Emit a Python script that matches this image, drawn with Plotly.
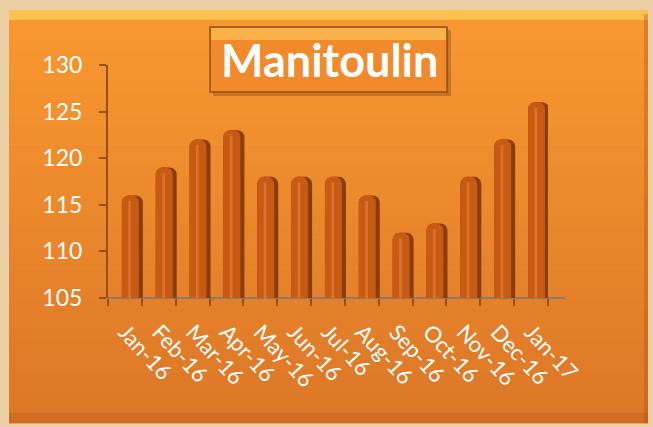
import plotly.graph_objects as go

months = ["Jan-16", "Feb-16", "Mar-16", "Apr-16", "May-16", "Jun-16", "Jul-16",
          "Aug-16", "Sep-16", "Oct-16", "Nov-16", "Dec-16", "Jan-17"]
values = [116, 119, 122, 123, 118, 118, 118, 116, 112, 113, 118, 122, 126]
y_ticks = [105, 110, 115, 120, 125, 130]
title_text = "Manitoulin"

W, H = 653, 427
L, R, T, B = 108, 548, 65, 298  # plot area in pixels


def px(X):
    return (X - L) / (R - L)


def py(Y):
    return (B - Y) / (B - T)


def mix(c1, c2, t):
    a = [int(c1[i:i + 2], 16) for i in (1, 3, 5)]
    b = [int(c2[i:i + 2], 16) for i in (1, 3, 5)]
    return "#" + "".join(f"{round(a[k] + (b[k] - a[k]) * t):02x}" for k in range(3))


shapes = []
# orange panel with vertical gradient
top_c, bot_c = "#F99830", "#DC7727"
y0p, y1p = 10, 423
n = 40
for i in range(n):
    ya = y0p + (y1p - y0p) * i / n
    yb = y0p + (y1p - y0p) * (i + 1) / n + 0.6
    shapes.append(dict(type="rect", xref="paper", yref="paper", layer="below",
                       x0=px(9), x1=px(648), y0=py(ya), y1=py(yb),
                       fillcolor=mix(top_c, bot_c, i / (n - 1)), line=dict(width=0)))
# bevel highlight top
shapes.append(dict(type="rect", xref="paper", yref="paper", layer="below",
                   x0=px(9), x1=px(648), y0=py(10), y1=py(20),
                   fillcolor="rgba(255,220,100,0.6)", line=dict(width=0)))
# bevel dark right
shapes.append(dict(type="rect", xref="paper", yref="paper", layer="below",
                   x0=px(644), x1=px(648), y0=py(14), y1=py(423),
                   fillcolor="rgba(170,80,20,0.35)", line=dict(width=0)))
# bevel dark bottom
shapes.append(dict(type="rect", xref="paper", yref="paper", layer="below",
                   x0=px(9), x1=px(648), y0=py(413), y1=py(423),
                   fillcolor="rgba(170,80,20,0.25)", line=dict(width=0)))
# title box shadow
shapes.append(dict(type="rect", xref="paper", yref="paper", layer="below",
                   x0=px(213), x1=px(451), y0=py(30), y1=py(96),
                   fillcolor="rgba(120,60,10,0.35)", line=dict(width=0)))
# title box
shapes.append(dict(type="rect", xref="paper", yref="paper", layer="below",
                   x0=px(210), x1=px(447), y0=py(27), y1=py(92),
                   fillcolor="#F08A2B", line=dict(color="#93501C", width=1.5)))
shapes.append(dict(type="rect", xref="paper", yref="paper", layer="below",
                   x0=px(211), x1=px(446), y0=py(28), y1=py(40),
                   fillcolor="rgba(255,205,90,0.6)", line=dict(width=0)))
# x axis line (extends past last category)
shapes.append(dict(type="line", xref="paper", yref="paper", layer="below",
                   x0=0, x1=px(565), y0=0, y1=0,
                   line=dict(color="#8F7A66", width=2)))

fig = go.Figure()
fig.add_trace(go.Bar(x=months, y=values, width=0.62, offset=-0.09,
                     marker=dict(color="#8A3D0B", line=dict(width=0), cornerradius=7),
                     hoverinfo="x+y", showlegend=False))
fig.add_trace(go.Bar(x=months, y=values, width=0.50, offset=-0.09,
                     marker=dict(color="#C85B13", line=dict(width=0), cornerradius=7),
                     hoverinfo="skip", showlegend=False))
fig.add_trace(go.Bar(x=months, y=[v - 0.6 for v in values], width=0.08, offset=0.1,
                     marker=dict(color="rgba(228,125,55,0.7)", line=dict(width=0)),
                     hoverinfo="skip", showlegend=False))

fig.update_layout(
    width=W, height=H,
    margin=dict(l=L, r=W - R, t=T, b=H - B, pad=0),
    paper_bgcolor="#EDCFA6", plot_bgcolor="rgba(0,0,0,0)",
    barmode="overlay", bargap=0.35,
    shapes=shapes,
    annotations=[dict(xref="paper", yref="paper", x=px(329), y=py(60),
                      xanchor="center", yanchor="middle",
                      text="<b>" + title_text + "</b>", showarrow=False,
                      font=dict(family="Lato", size=45, color="white"))],
    font=dict(family="Lato"),
)
fig.update_yaxes(range=[105, 130], tickvals=y_ticks, ticks="outside", ticklen=7,
                 tickcolor="#94500F", tickwidth=2, showline=True, linecolor="#94500F",
                 linewidth=2, showgrid=False, zeroline=False,
                 tickfont=dict(family="Lato", size=23, color="white"),
                 ticklabelstandoff=12)
fig.update_xaxes(type="category", range=[-0.5, 12.5], tickson="boundaries",
                 ticks="outside", ticklen=7, tickcolor="#94500F", tickwidth=2,
                 showline=False, showgrid=False, tickangle=47,
                 tickfont=dict(family="Lato", size=22, color="white"),
                 ticklabelstandoff=16)

fig.write_html("out.html", config={"displayModeBar": False},
               post_script="document.body.style.margin='0px';")
